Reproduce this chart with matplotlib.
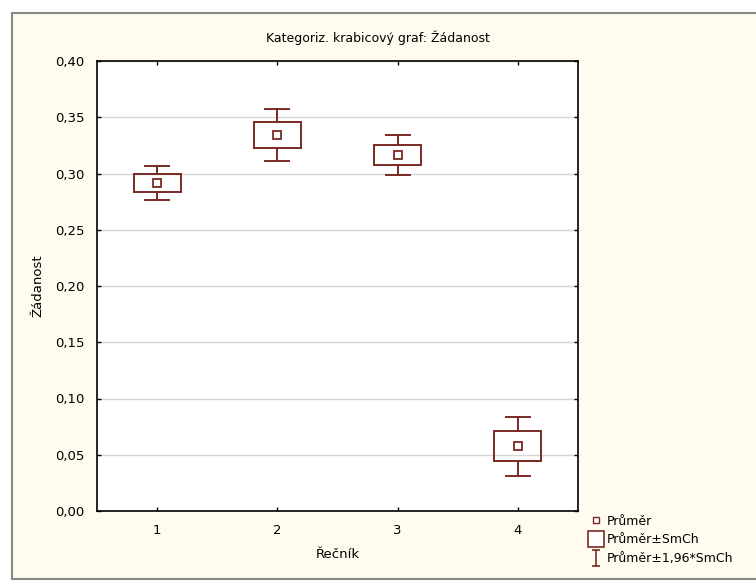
import matplotlib.pyplot as plt
from matplotlib.lines import Line2D
from matplotlib.path import Path
from matplotlib.patches import Rectangle
import numpy as np

# values (Žádanost by Řečník)
speakers = [1, 2, 3, 4]
means = [0.2916, 0.3342, 0.3164, 0.0576]
se = [0.0077, 0.0116, 0.0092, 0.0133]
yticks = [0.00, 0.05, 0.10, 0.15, 0.20, 0.25, 0.30, 0.35, 0.40]

dark_red = '#7a2a24'
cream = '#fffbef'

plt.rcParams['font.family'] = ['DejaVu Sans']

fig = plt.figure(figsize=(7.56, 5.81), dpi=100, facecolor='white')
# cream panel with grey frame on left/top/bottom
panel = Rectangle((12 / 756, 2 / 581), 1.0, 566 / 581, transform=fig.transFigure,
                  facecolor=cream, edgecolor='#8a8a80', linewidth=1.5, zorder=-5)
fig.patches.append(panel)

ax = fig.add_axes([97 / 756, 70 / 581, 481 / 756, 450 / 581])
ax.set_facecolor('white')

x = np.array(speakers)
m = np.array(means)
s = np.array(se)
box_w = 0.39
cap_w = 0.20

for xi, mi, si in zip(x, m, s):
    ax.add_patch(Rectangle((xi - box_w / 2, mi - si), box_w, 2 * si, fill=False,
                           edgecolor=dark_red, linewidth=1.4, zorder=3))
    ax.plot([xi, xi], [mi + si, mi + 1.96 * si], color=dark_red, lw=1.4, zorder=3)
    ax.plot([xi, xi], [mi - si, mi - 1.96 * si], color=dark_red, lw=1.4, zorder=3)
    ax.plot([xi - cap_w / 2, xi + cap_w / 2], [mi + 1.96 * si] * 2, color=dark_red, lw=1.4, zorder=3)
    ax.plot([xi - cap_w / 2, xi + cap_w / 2], [mi - 1.96 * si] * 2, color=dark_red, lw=1.4, zorder=3)
ax.plot(x, m, 's', ms=5.5, mfc='white', mec=dark_red, mew=1.3, ls='none', zorder=4)

ax.set_xlim(0.5, 4.5)
ax.set_ylim(0, 0.40)
ax.set_xticks(speakers)
ax.set_yticks(yticks)
ax.set_yticklabels([f'{v:.2f}'.replace('.', ',') for v in yticks])
ax.yaxis.grid(True, color='#d6d6d6', linewidth=1)
ax.set_axisbelow(True)
ax.tick_params(direction='in', length=3, width=1, top=True, right=True, labelsize=9.5, pad=9)
for sp in ax.spines.values():
    sp.set_linewidth(1.2)

ax.set_xlabel('Řečník', fontsize=9.5, labelpad=8)
ax.set_ylabel('Žádanost', fontsize=9.5, labelpad=8)
fig.text(378 / 756, 1 - 38 / 581, 'Kategoriz. krabicový graf: Žádanost', ha='center', va='center', fontsize=9)

# legend
ibeam = Path([(-0.5, 1), (0.5, 1), (0, 1), (0, -1), (-0.5, -1), (0.5, -1)],
             [Path.MOVETO, Path.LINETO, Path.MOVETO, Path.LINETO, Path.MOVETO, Path.LINETO])
handles = [
    Line2D([], [], marker='s', ms=4.5, mfc='white', mec=dark_red, ls='none'),
    Line2D([], [], marker='s', ms=11, mfc='white', mec=dark_red, mew=1.2, ls='none'),
    Line2D([], [], marker=ibeam, ms=12, color=dark_red, mew=1.2, ls='none'),
]
fig.legend(handles, ['Průměr', 'Průměr±SmCh', 'Průměr±1,96*SmCh'], loc='upper left',
           bbox_to_anchor=(582 / 756, 1 - 506 / 581), frameon=False, fontsize=9,
           handlelength=0.8, handletextpad=0.5, labelspacing=0.45, borderpad=0.2)

fig.savefig('out.png', dpi=100, facecolor=fig.get_facecolor())
